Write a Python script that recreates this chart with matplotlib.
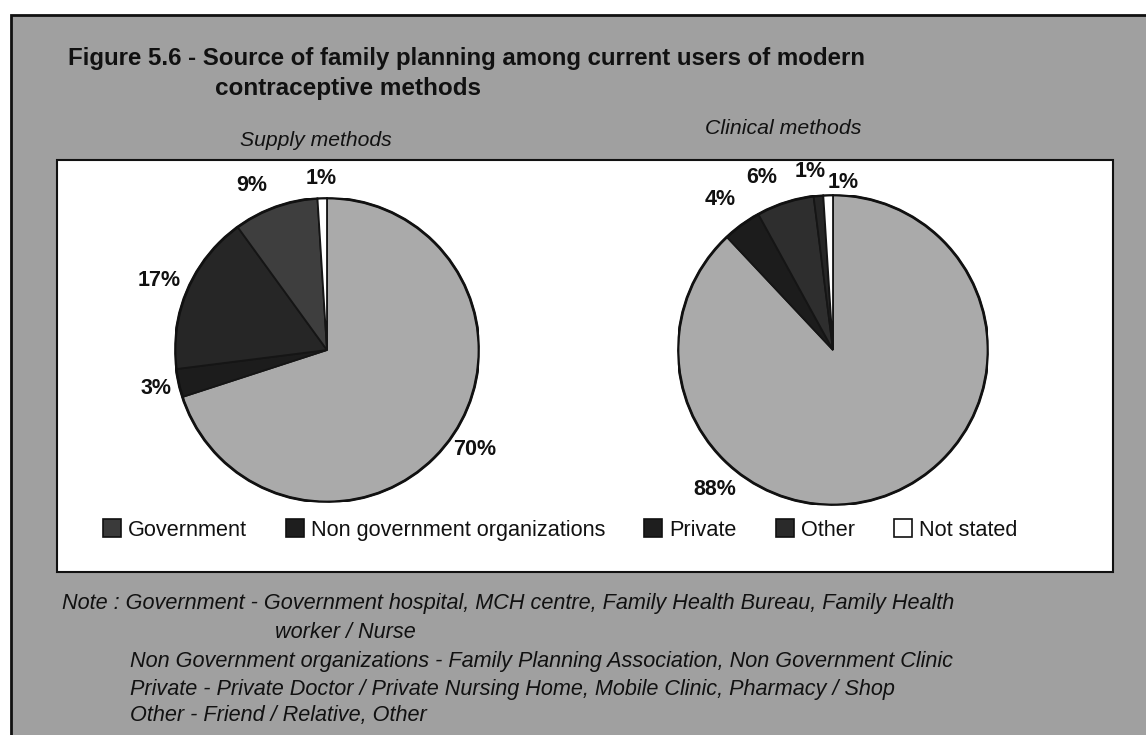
import numpy as np
import matplotlib
matplotlib.use("Agg")
import matplotlib.pyplot as plt
from matplotlib.patches import Rectangle, Patch

# ---------------- data ----------------
categories = ["Government", "Non government organizations", "Private", "Other", "Not stated"]
supply_values = [70, 3, 17, 9, 1]
clinical_values = [88, 4, 6, 1, 1]
supply_title = "Supply methods"
clinical_title = "Clinical methods"
title_lines = ["Figure 5.6 - Source of family planning among current users of modern",
               "contraceptive methods"]
note_lines = ["Note : Government - Government hospital, MCH centre, Family Health Bureau, Family Health",
              "worker / Nurse",
              "Non Government organizations - Family Planning Association, Non Government Clinic",
              "Private - Private Doctor / Private Nursing Home, Mobile Clinic, Pharmacy / Shop",
              "Other - Friend / Relative, Other"]

# ---------------- style ----------------
W, H = 1146, 735
plt.rcParams['font.family'] = ['Liberation Sans', 'DejaVu Sans']
TXT = "#111111"
BG = "#a0a0a0"
supply_colors = ["#aaaaaa", "#1c1c1c", "#262626", "#3e3e3e", "#ffffff"]
clinical_colors = ["#aaaaaa", "#1c1c1c", "#2e2e2e", "#262626", "#ffffff"]
legend_colors = ["#3a3a3a", "#1e1e1e", "#1e1e1e", "#2a2a2a", "#ffffff"]

fig = plt.figure(figsize=(W / 100, H / 100), dpi=100)
fig.patch.set_facecolor("white")


def fx(x):
    return x / W


def fy(y):
    return 1 - y / H


# outer gray frame
fig.patches.append(Rectangle((fx(11), fy(740)), fx(1150) - fx(11), fy(15) - fy(740),
                             transform=fig.transFigure, facecolor=BG,
                             edgecolor="#111111", linewidth=2, zorder=-3))
# inner white panel
fig.patches.append(Rectangle((fx(57), fy(572)), fx(1113) - fx(57), fy(160) - fy(572),
                             transform=fig.transFigure, facecolor="white",
                             edgecolor="#111111", linewidth=1.5, zorder=-2))

renderer = fig.canvas.get_renderer()


def fit_text(x, y, s, width, **kw):
    t = fig.text(fx(x), fy(y), s, color=TXT, va="center", **kw)
    bb = t.get_window_extent(renderer)
    t.set_fontsize(t.get_fontsize() * width / bb.width)
    return t


# title
fit_text(68, 58, title_lines[0], 802, fontweight="bold", fontsize=15)
fit_text(215, 88, title_lines[1], 267, fontweight="bold", fontsize=15)

# subtitles
fit_text(240, 140, supply_title, 152, style="italic", fontsize=14)
fit_text(705, 129, clinical_title, 157, style="italic", fontsize=14)


def draw_pie(cx, cy, R, values, colors, nudges):
    ax = fig.add_axes([fx(cx - R), fy(cy + R), 2 * R / W, 2 * R / H])
    ax.set_zorder(1)
    wedges, _ = ax.pie(values, colors=colors, startangle=90, counterclock=False,
                       wedgeprops=dict(edgecolor="#151515", linewidth=1.3))
    circ = plt.Circle((0, 0), 1, fill=False, edgecolor="#111111", linewidth=2)
    ax.add_patch(circ)
    ax.set_xlim(-1, 1)
    ax.set_ylim(-1, 1)
    ax.axis("off")
    for w, v, (d, nx, ny) in zip(wedges, values, nudges):
        mid = np.deg2rad((w.theta1 + w.theta2) / 2)
        ax.text(d * np.cos(mid) + nx, d * np.sin(mid) + ny, f"{v}%",
                ha="center", va="center", fontsize=15.5, fontweight="bold",
                color=TXT, clip_on=False)
    return ax


# label placement: (distance in radii, x nudge, y nudge)
supply_nudges = [(1.2, 0.0, 0.05), (1.15, 0.0, 0.0), (1.2, 0.0, -0.02),
                 (1.17, -0.1, -0.02), (1.13, 0.0, 0.0)]
clinical_nudges = [(1.17, -1.19, 0.19), (1.2, -0.02, 0.0), (1.17, -0.1, 0.0),
                   (1.17, -0.04, -0.01), (1.17, 0.1, -0.09)]

draw_pie(327, 350, 152, supply_values, supply_colors, supply_nudges)
draw_pie(833, 350, 155, clinical_values, clinical_colors, clinical_nudges)

# legend
fs = 15.6
fs_px = fs * 100 / 72
handles = [Patch(facecolor=c, edgecolor="#111111", linewidth=1.2) for c in legend_colors]
leg = fig.legend(handles, categories, loc="center left",
                 bbox_to_anchor=(fx(103), fy(530)), ncol=5, frameon=False,
                 fontsize=fs, handlelength=18 / fs_px, handleheight=18 / fs_px,
                 handletextpad=7 / fs_px, columnspacing=39 / fs_px,
                 borderpad=0, borderaxespad=0)
for t in leg.get_texts():
    t.set_color(TXT)

# notes
fit_text(62, 603, note_lines[0], 890, style="italic", fontsize=13)
note_fs = fig.texts[-1].get_fontsize()
for (x, y), s in zip([(275, 632), (130, 661), (130, 689), (130, 716)], note_lines[1:]):
    fig.text(fx(x), fy(y), s, color=TXT, va="center", style="italic", fontsize=note_fs)

fig.savefig("out.png", dpi=100)
